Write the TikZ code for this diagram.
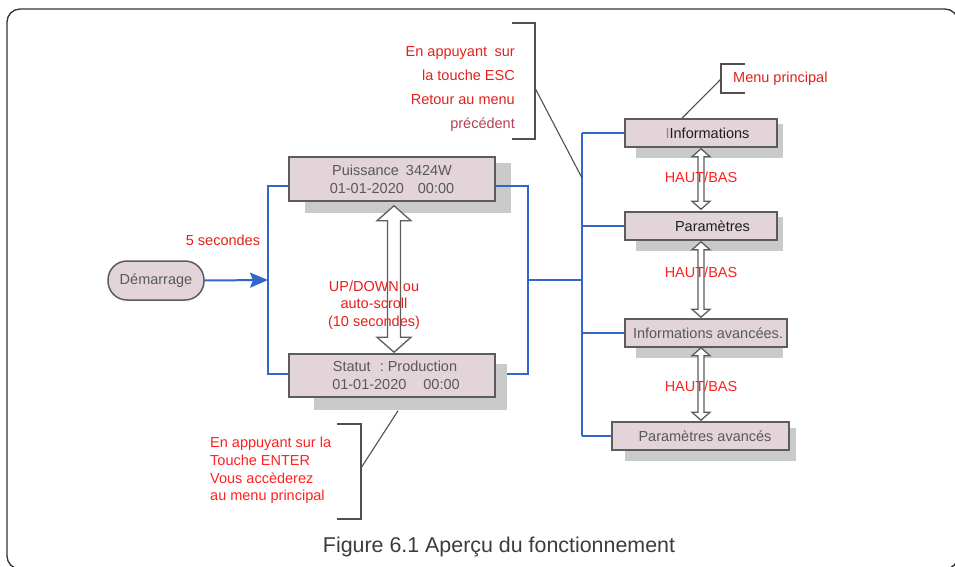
\documentclass[tikz,border=0pt]{standalone}
\usepackage{fontspec}
\setmainfont{Liberation Sans}
\usetikzlibrary{calc,arrows.meta}
\definecolor{boxfill}{HTML}{E3D4D9}
\definecolor{boxline}{HTML}{5C5C5C}
\definecolor{shadowc}{HTML}{C9CAC9}
\definecolor{bluel}{HTML}{3366CC}
\definecolor{redt}{HTML}{E3201B}
\definecolor{redb}{HTML}{FF2020}
\definecolor{maroonc}{HTML}{B5405A}
\definecolor{graytext}{HTML}{595959}
\definecolor{darktext}{HTML}{1E1E1E}
\definecolor{lightI}{HTML}{8A8A8A}
\definecolor{framec}{HTML}{333333}
\definecolor{leaderc}{HTML}{505050}
\definecolor{captionc}{HTML}{3C3C3C}
\pgfdeclarelayer{lines}
\pgfdeclarelayer{shadows}
\pgfdeclarelayer{over}
\pgfsetlayers{lines,shadows,over,main}
\newcommand\hollowdbl[6]{%
  \draw[hollow] let \p1=(#1), \p2=(#2), \p3=(#3) in
    (\x3,\y1) -- (\x3+#5,\y1-#6) -- (\x3+#4,\y1-#6) -- (\x3+#4,\y2+#6) --
    (\x3+#5,\y2+#6) -- (\x3,\y2) -- (\x3-#5,\y2+#6) -- (\x3-#4,\y2+#6) --
    (\x3-#4,\y1-#6) -- (\x3-#5,\y1-#6) -- cycle;}
\begin{document}
\begin{tikzpicture}[x=1pt,y=-1pt,
  mbox/.style={draw=boxline, line width=1.5pt, fill=boxfill, inner sep=0pt,
    text=graytext, font=\fontsize{14.5}{18}\selectfont, align=center},
  startbox/.style={mbox, rounded corners=19pt, minimum width=96pt, minimum height=39pt},
  bline/.style={draw=bluel, line width=1.3pt},
  bus/.style={draw=bluel, line width=2.4pt},
  redlab/.style={text=redt, font=\fontsize{14.5}{17.6}\selectfont, inner sep=0pt, align=center},
  hollow/.style={draw=boxline, fill=white, line width=1.3pt, line join=miter},
  leader/.style={draw=leaderc, line width=1.1pt},
  framel/.style={draw=framec, line width=1.3pt, rounded corners=13pt},
]
\useasboundingbox (0,0) rectangle (955,567);
\clip (0,0) rectangle (955,567);
\draw[framel] (7,9) rectangle (958,569);

% boxes
\node[startbox] (dem) at (156,280.5) {Démarrage};
\node[mbox, minimum width=206pt, minimum height=44pt] (pw) at (392,179)
  {Puissance\hspace{7pt}3424W\\01-01-2020\hspace{14pt}00:00};
\node[mbox, minimum width=206pt, minimum height=43pt] (st) at (392,375.5)
  {\hspace*{6pt}Statut\hspace{9pt}:\hspace{4pt}Production\\\hspace*{8pt}01-01-2020\hspace{17pt}00:00};
\node[mbox, minimum width=152pt, minimum height=28pt, text=darktext] (info) at (701,133)
  {\hspace*{13pt}\textcolor{lightI}{I}Informations};
\node[mbox, minimum width=152pt, minimum height=28pt, text=darktext] (par) at (701,226)
  {\hspace*{23pt}Paramètres};
\node[mbox, minimum width=162pt, minimum height=28pt] (infav) at (706,333)
  {\hspace*{4pt}Informations avancées.};
\node[mbox, minimum width=177pt, minimum height=28pt] (pav) at (700.5,436)
  {\hspace*{9pt}Paramètres avancés};

\coordinate (jl) at (268,280);
\coordinate (jr) at (528,280);
\coordinate (bustop) at (582,133);
\coordinate (busbot) at (582,436);
\coordinate (mpb) at (721,79);
\coordinate (escb) at (535,88);
\coordinate (escend) at (582,178);
\coordinate (entb) at (361,468);

\begin{pgfonlayer}{lines}
  \draw[bline, line width=2pt, -{Stealth[length=18pt,width=15pt,inset=3pt]}] (dem.east) -- (jl);
  \draw[bline] ([yshift=-7pt]pw.west) -| (jl) |- ([yshift=1.5pt]st.west);
  \draw[bline] (jr) |- ([yshift=1.5pt]st.east);
  \draw[bline] (jr) -- (jr -| bustop);
  \draw[bus] (bustop) -- (busbot);
  \draw[bline] (info.west) -- (info.west -| bustop);
  \draw[bline] (par.west) -- (par.west -| bustop);
  \draw[bline] (infav.west) -- (infav.west -| bustop);
  \draw[bline] (pav.west) -- (pav.west -| bustop);
  % leaders and brackets
  \draw[leader] (745,64) -- (721,64) -- (721,93) -- (745,93);
  \draw[leader] (mpb) -- ([xshift=-19pt]info.north);
  \draw[leader] (512,23) -- (535,23) -- (535,139) -- (512,139);
  \draw[leader] (escb) -- (escend);
  \draw[leader] (337,424) -- (361,424) -- (361,519) -- (337,519);
  \draw[leader] (entb) -- ([shift={(6pt,-13pt)}]st.south);
\end{pgfonlayer}

\begin{pgfonlayer}{shadows}
  \fill[shadowc] (305,163) rectangle (511,213);
  \fill[shadowc] (314,364) rectangle (507,410);
  \fill[shadowc] (636,124) rectangle (783,158);
  \fill[shadowc] (636,217) rectangle (783,251);
  \fill[shadowc] (636,324) rectangle (783,358);
  \fill[shadowc] (625,428) rectangle (796,461);
\end{pgfonlayer}

\begin{pgfonlayer}{over}
  \draw[bline] ([yshift=-7pt]pw.east) -| (jr);
\end{pgfonlayer}

% hollow double arrows
\hollowdbl{[yshift=-4pt]pw.south}{[yshift=1pt]st.north}{[xshift=2pt]pw.south}{6.5}{17}{15}
\hollowdbl{[yshift=-1pt]info.south}{[yshift=2pt]par.north}{info.south}{3}{9}{8}
\hollowdbl{[yshift=-1pt]par.south}{[yshift=1pt]infav.north}{info.south}{3}{9}{8}
\hollowdbl{infav.south}{[yshift=1pt]pav.north}{info.south}{3}{9}{8}

% labels
\node[redlab] (t5) at (223,240) {5 secondes};
\node[redlab] (tud) at (374,305) {UP/DOWN ou\\auto-scroll\\(10 secondes)};
\node[redlab, text=redb] (hb1) at (701,177) {HAUT/BAS};
\node[redlab, text=redb] (hb2) at (701,272) {HAUT/BAS};
\node[redlab, text=redb] (hb3) at (701,386) {HAUT/BAS};
\node[redlab, anchor=west] (mp) at (733,79) {Menu principal};
\node[redlab, align=right, anchor=east, font=\fontsize{14.5}{24}\selectfont] (esct) at (515,89)
  {En appuyant\hspace{7.5pt}sur\\la touche ESC\hspace{3pt}\\Retour au menu\\\textcolor{maroonc}{précédent}\hspace{7pt}};
\node[redlab, text=redb, align=left, anchor=west, font=\fontsize{14.5}{17.7}\selectfont] (entt) at (210,470.5)
  {En appuyant sur la\\Touche ENTER\\Vous accèderez\\au menu principal};
\node[font=\fontsize{21.4}{25}\selectfont, text=captionc, inner sep=0pt] (cap) at (499,547)
  {Figure 6.1 Aperçu du fonctionnement};
\end{tikzpicture}
\end{document}
